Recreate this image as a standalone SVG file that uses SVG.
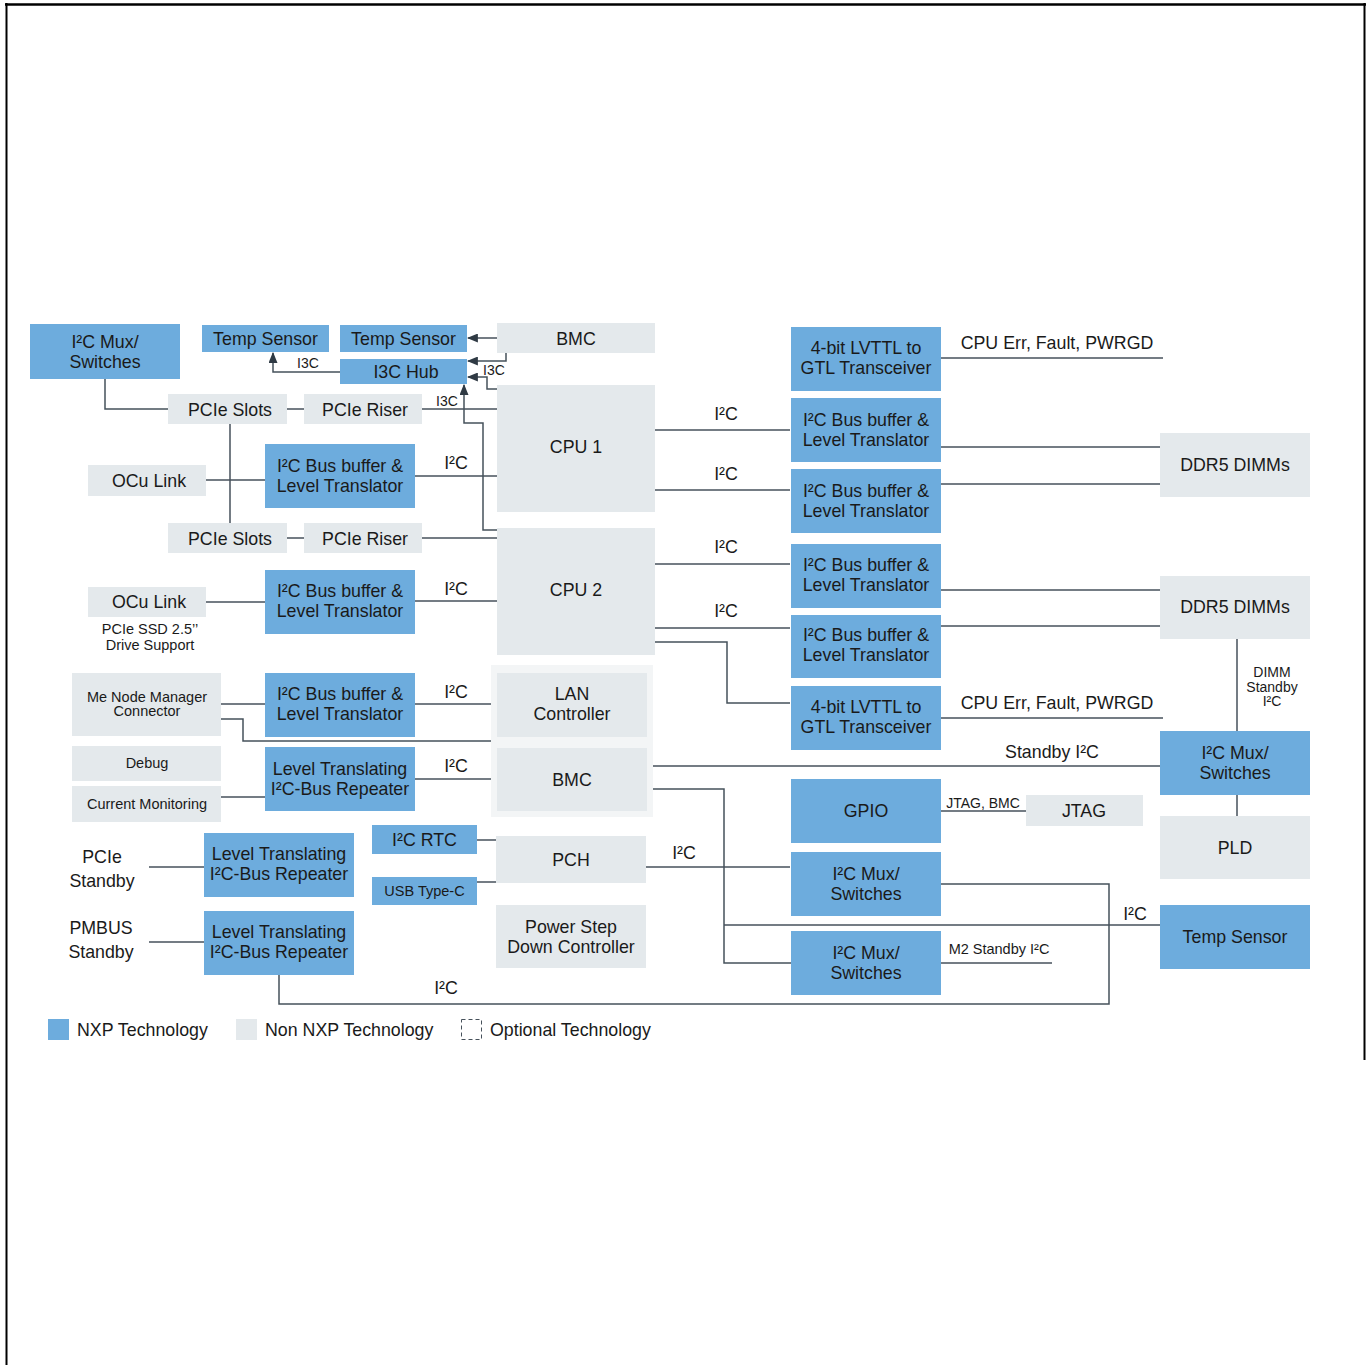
<svg xmlns="http://www.w3.org/2000/svg" width="1367" height="1365" viewBox="0 0 1367 1365">
<style>
text{font-family:"Liberation Sans",Arial,sans-serif;fill:#1a1a1a;text-anchor:middle}
.t{font-size:17.8px}
.s{font-size:14.5px}
.x{font-size:14px}
.nxp{fill:#6dacdd}
.non{fill:#e4e9ec}
.grp{fill:#f3f5f6}
.c path{fill:none;stroke:#46515b;stroke-width:1.5}
.c path.a{marker-end:url(#arr)}
.frame{stroke:#000;fill:none}
</style>
<defs>
<marker id="arr" viewBox="0 0 10 10" refX="9" refY="5" markerWidth="11" markerHeight="9" markerUnits="userSpaceOnUse" orient="auto" preserveAspectRatio="none">
<path d="M0,0 L10,5 L0,10 z" fill="#2f3a44"/>
</marker>
</defs>
<rect width="1367" height="1365" fill="#fff"/>
<g id="frame">
<line class="frame" x1="5" y1="4.5" x2="1366" y2="4.5" stroke-width="2.5"/>
<line class="frame" x1="6.5" y1="3" x2="6.5" y2="1365" stroke-width="2"/>
<line class="frame" x1="1364.5" y1="3" x2="1364.5" y2="1060" stroke-width="2"/>
</g>

<g id="group-lan-bmc"><rect class="grp" x="491" y="665" width="162" height="152"/></g>

<g class="c" id="connectors">
<path d="M105,379 V409 H168"/>
<path d="M287,409 H304"/>
<path d="M422,409 H497"/>
<path d="M230,424 V523"/>
<path d="M206,480 H265"/>
<path d="M415,476 H497"/>
<path d="M287,538 H304"/>
<path d="M422,538 H497"/>
<path class="a" d="M340,372 H273 V353"/>
<path class="a" d="M497,338 H468"/>
<path class="a" d="M506,353 V361 H468"/>
<path class="a" d="M497,389 H487 V377 H468"/>
<path class="a" d="M497,530 H483 V423 H464 V385"/>
<path d="M655,430 H790"/>
<path d="M655,490 H790"/>
<path d="M941,358 H1163"/>
<path d="M941,447 H1160"/>
<path d="M941,484 H1160"/>
<path d="M206,602 H265"/>
<path d="M415,601 H497"/>
<path d="M655,564 H790"/>
<path d="M655,628 H790"/>
<path d="M655,642 H727 V703 H790"/>
<path d="M941,718 H1163"/>
<path d="M941,590 H1160"/>
<path d="M941,626 H1160"/>
<path d="M1237,639 V731"/>
<path d="M1237,795 V816"/>
<path d="M221,704 H265"/>
<path d="M415,704 H491"/>
<path d="M221,719 H243 V741 H491"/>
<path d="M221,797 H265"/>
<path d="M415,779 H491"/>
<path d="M653,766 H1160"/>
<path d="M653,789 H724 V963 H791"/>
<path d="M724,925 H1160"/>
<path d="M941,811 H1026"/>
<path d="M477,840 H496"/>
<path d="M477,882 H496"/>
<path d="M646,867 H790"/>
<path d="M941,884 H1109 V1004 H279 V975"/>
<path d="M941,963 H1052"/>
<path d="M149,867 H204"/>
<path d="M149,942 H204"/>
</g>

<g id="connector-labels">
<text class="x" x="308" y="368">I3C</text>
<text class="x" x="494" y="375">I3C</text>
<text class="x" x="447" y="406">I3C</text>
<text class="t" x="456" y="469">I²C</text>
<text class="t" x="726" y="420">I²C</text>
<text class="t" x="726" y="480">I²C</text>
<text class="t" x="1057" y="349">CPU Err, Fault, PWRGD</text>
<text class="t" x="456" y="595">I²C</text>
<text class="t" x="726" y="553">I²C</text>
<text class="t" x="726" y="617">I²C</text>
<text class="t" x="1057" y="709">CPU Err, Fault, PWRGD</text>
<text class="x" x="1272" y="677">DIMM</text>
<text class="x" x="1272" y="692">Standby</text>
<text class="x" x="1272" y="706">I²C</text>
<text class="t" x="456" y="698">I²C</text>
<text class="t" x="456" y="772">I²C</text>
<text class="t" x="1052" y="758">Standby I²C</text>
<text class="x" x="983" y="808">JTAG, BMC</text>
<text class="t" x="684" y="859">I²C</text>
<text class="t" x="1135" y="920">I²C</text>
<text class="s" x="999" y="954">M2 Standby I²C</text>
<text class="t" x="446" y="994">I²C</text>
<text class="t" x="102" y="863">PCIe</text>
<text class="t" x="102" y="887">Standby</text>
<text class="t" x="101" y="934">PMBUS</text>
<text class="t" x="101" y="958">Standby</text>
<text class="s" x="150" y="634">PCIe SSD 2.5’’</text>
<text class="s" x="150" y="650">Drive Support</text>
</g>

<g id="n-mux-tl"><rect class="nxp" x="30" y="324" width="150" height="55"/><text class="t" x="105" y="348">I²C Mux/</text><text class="t" x="105" y="368">Switches</text></g>
<g id="n-temp1"><rect class="nxp" x="202" y="325" width="127" height="27"/><text class="t" x="265.5" y="345">Temp Sensor</text></g>
<g id="n-temp2"><rect class="nxp" x="340" y="325" width="127" height="27"/><text class="t" x="403.5" y="345">Temp Sensor</text></g>
<g id="n-i3chub"><rect class="nxp" x="340" y="359" width="127" height="25"/><text class="t" x="406" y="378">I3C Hub</text></g>
<g id="n-bmc-top"><rect class="non" x="497" y="323" width="158" height="30"/><text class="t" x="576" y="345">BMC</text></g>
<g id="n-slots1"><rect class="non" x="168" y="394" width="119" height="30"/><text class="t" x="230" y="416">PCIe Slots</text></g>
<g id="n-riser1"><rect class="non" x="304" y="394" width="118" height="30"/><text class="t" x="365" y="416">PCIe Riser</text></g>
<g id="n-ocu1"><rect class="non" x="88" y="465" width="118" height="31"/><text class="t" x="149" y="487">OCu Link</text></g>
<g id="n-buf-l1"><rect class="nxp" x="265" y="444" width="150" height="64"/><text class="t" x="340" y="472">I²C Bus buffer &amp;</text><text class="t" x="340" y="492">Level Translator</text></g>
<g id="n-slots2"><rect class="non" x="168" y="523" width="119" height="30"/><text class="t" x="230" y="545">PCIe Slots</text></g>
<g id="n-riser2"><rect class="non" x="304" y="523" width="118" height="30"/><text class="t" x="365" y="545">PCIe Riser</text></g>
<g id="n-cpu1"><rect class="non" x="497" y="385" width="158" height="127"/><text class="t" x="576" y="453">CPU 1</text></g>
<g id="n-cpu2"><rect class="non" x="497" y="528" width="158" height="127"/><text class="t" x="576" y="596">CPU 2</text></g>
<g id="n-ocu2"><rect class="non" x="88" y="587" width="118" height="30"/><text class="t" x="149" y="608">OCu Link</text></g>
<g id="n-buf-l2"><rect class="nxp" x="265" y="570" width="150" height="64"/><text class="t" x="340" y="597">I²C Bus buffer &amp;</text><text class="t" x="340" y="617">Level Translator</text></g>
<g id="n-me"><rect class="non" x="72" y="673" width="149" height="63"/><text class="s" x="147" y="702">Me Node Manager</text><text class="s" x="147" y="716">Connector</text></g>
<g id="n-buf-l3"><rect class="nxp" x="265" y="673" width="150" height="64"/><text class="t" x="340" y="700">I²C Bus buffer &amp;</text><text class="t" x="340" y="720">Level Translator</text></g>
<g id="n-debug"><rect class="non" x="72" y="746" width="149" height="35"/><text class="s" x="147" y="768">Debug</text></g>
<g id="n-curmon"><rect class="non" x="72" y="786" width="149" height="36"/><text class="s" x="147" y="809">Current Monitoring</text></g>
<g id="n-rep-mid"><rect class="nxp" x="265" y="747" width="150" height="64"/><text class="t" x="340" y="775">Level Translating</text><text class="t" x="340" y="795">I²C-Bus Repeater</text></g>
<g id="n-lan"><rect class="non" x="497" y="673" width="150" height="64"/><text class="t" x="572" y="700">LAN</text><text class="t" x="572" y="720">Controller</text></g>
<g id="n-bmc2"><rect class="non" x="497" y="748" width="150" height="63"/><text class="t" x="572" y="786">BMC</text></g>
<g id="n-rtc"><rect class="nxp" x="372" y="825" width="105" height="29"/><text class="t" x="424.5" y="846">I²C RTC</text></g>
<g id="n-usb"><rect class="nxp" x="372" y="877" width="105" height="28"/><text class="s" x="424.5" y="896">USB Type-C</text></g>
<g id="n-rep-pcie"><rect class="nxp" x="204" y="833" width="150" height="64"/><text class="t" x="279" y="860">Level Translating</text><text class="t" x="279" y="880">I²C-Bus Repeater</text></g>
<g id="n-rep-pmbus"><rect class="nxp" x="204" y="911" width="150" height="64"/><text class="t" x="279" y="938">Level Translating</text><text class="t" x="279" y="958">I²C-Bus Repeater</text></g>
<g id="n-pch"><rect class="non" x="496" y="836" width="150" height="47"/><text class="t" x="571" y="866">PCH</text></g>
<g id="n-psdc"><rect class="non" x="496" y="905" width="150" height="63"/><text class="t" x="571" y="933">Power Step</text><text class="t" x="571" y="953">Down Controller</text></g>
<g id="n-lvttl1"><rect class="nxp" x="791" y="327" width="150" height="64"/><text class="t" x="866" y="354">4-bit LVTTL to</text><text class="t" x="866" y="374">GTL Transceiver</text></g>
<g id="n-buf-r1"><rect class="nxp" x="791" y="398" width="150" height="64"/><text class="t" x="866" y="426">I²C Bus buffer &amp;</text><text class="t" x="866" y="446">Level Translator</text></g>
<g id="n-buf-r2"><rect class="nxp" x="791" y="469" width="150" height="64"/><text class="t" x="866" y="497">I²C Bus buffer &amp;</text><text class="t" x="866" y="517">Level Translator</text></g>
<g id="n-buf-r3"><rect class="nxp" x="791" y="544" width="150" height="64"/><text class="t" x="866" y="571">I²C Bus buffer &amp;</text><text class="t" x="866" y="591">Level Translator</text></g>
<g id="n-buf-r4"><rect class="nxp" x="791" y="615" width="150" height="63"/><text class="t" x="866" y="641">I²C Bus buffer &amp;</text><text class="t" x="866" y="661">Level Translator</text></g>
<g id="n-lvttl2"><rect class="nxp" x="791" y="686" width="150" height="64"/><text class="t" x="866" y="713">4-bit LVTTL to</text><text class="t" x="866" y="733">GTL Transceiver</text></g>
<g id="n-gpio"><rect class="nxp" x="791" y="779" width="150" height="64"/><text class="t" x="866" y="817">GPIO</text></g>
<g id="n-jtag"><rect class="non" x="1026" y="795" width="117" height="31"/><text class="t" x="1084" y="817">JTAG</text></g>
<g id="n-mux-mid"><rect class="nxp" x="791" y="852" width="150" height="64"/><text class="t" x="866" y="880">I²C Mux/</text><text class="t" x="866" y="900">Switches</text></g>
<g id="n-mux-low"><rect class="nxp" x="791" y="931" width="150" height="64"/><text class="t" x="866" y="959">I²C Mux/</text><text class="t" x="866" y="979">Switches</text></g>
<g id="n-ddr1"><rect class="non" x="1160" y="433" width="150" height="64"/><text class="t" x="1235" y="471">DDR5 DIMMs</text></g>
<g id="n-ddr2"><rect class="non" x="1160" y="576" width="150" height="63"/><text class="t" x="1235" y="613">DDR5 DIMMs</text></g>
<g id="n-mux-r"><rect class="nxp" x="1160" y="731" width="150" height="64"/><text class="t" x="1235" y="759">I²C Mux/</text><text class="t" x="1235" y="779">Switches</text></g>
<g id="n-pld"><rect class="non" x="1160" y="816" width="150" height="63"/><text class="t" x="1235" y="854">PLD</text></g>
<g id="n-temp-r"><rect class="nxp" x="1160" y="905" width="150" height="64"/><text class="t" x="1235" y="943">Temp Sensor</text></g>

<g id="legend">
<rect class="nxp" x="48" y="1019" width="21" height="21"/>
<text class="t" x="77" y="1036" style="text-anchor:start">NXP Technology</text>
<rect class="non" x="236" y="1019" width="21" height="21"/>
<text class="t" x="265" y="1036" style="text-anchor:start">Non NXP Technology</text>
<rect x="461.5" y="1019.5" width="20" height="20" fill="none" stroke="#46515b" stroke-width="1" stroke-dasharray="4,3"/>
<text class="t" x="490" y="1036" style="text-anchor:start">Optional Technology</text>
</g>
</svg>
